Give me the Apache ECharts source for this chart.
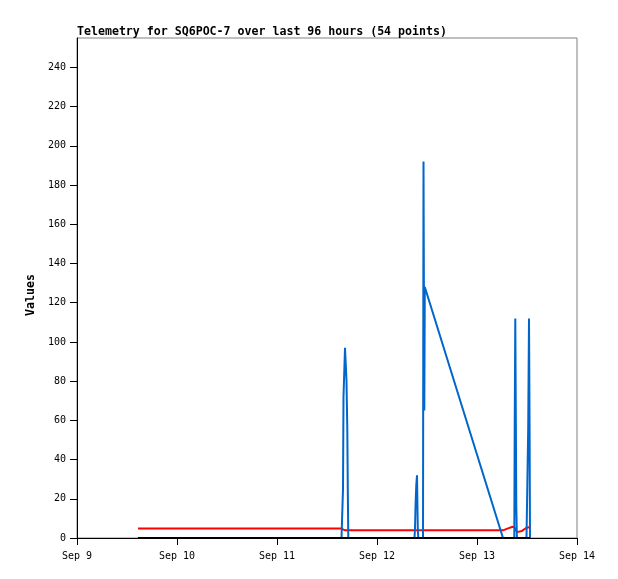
<!DOCTYPE html>
<html>
<head>
<meta charset="utf-8">
<script src="https://cdn.jsdelivr.net/npm/echarts@6/dist/echarts.min.js"></script>
<style>html,body{margin:0;padding:0;background:#fff}#c{width:618px;height:579px}</style>
</head>
<body>
<div id="c"></div>
<script>
// time in hours since Sep 9 00:00
var times = [14.64, 63.48, 63.72, 63.84, 63.96, 64.32, 64.68, 64.87, 64.99, 65.11,
  81.0, 81.12, 81.24, 81.43, 81.6, 81.79, 81.91,
  83.04, 83.16, 83.35, 83.47,
  102.24, 102.72, 103.44, 104.4,
  104.95, 105.05, 105.19, 105.43, 105.58, 105.84, 106.8, 107.88,
  108.19, 108.29, 108.48, 108.62, 108.72];
var blueVals = [0, 0, 0, 25, 72, 97, 80, 56, 25, 0,
  0, 5, 16, 27, 32, 5, 0,
  0, 192, 65, 128,
  0, 0, 0, 0,
  0, 56, 112, 16, 0, 0, 0, 0,
  0, 56, 112, 56, 0];
var redVals = [4.8, 4.8, 3.9, 3.9, 3.9, 3.9, 3.9, 3.9, 3.9, 3.9,
  3.9, 3.9, 3.9, 3.9, 3.9, 3.9, 3.9,
  3.9, 3.9, 3.9, 3.9,
  3.9, 4.3, 4.9, 5.6,
  5.7, 5.2, 4.5, 3.5, 3.0, 2.7, 3.6, 5.2,
  5.4, 5.5, 5.5, 5.5, 5.5];
var blackVals = times.map(function(){ return 0; });
var xTicks = [0, 24, 48, 72, 96, 120];
var xTickLabels = ['Sep 9', 'Sep 10', 'Sep 11', 'Sep 12', 'Sep 13', 'Sep 14'];
var yTicks = [0, 20, 40, 60, 80, 100, 120, 140, 160, 180, 200, 220, 240];

function pairs(vals){ return times.map(function(t, i){ return [t, vals[i]]; }); }

var chart = echarts.init(document.getElementById('c'), null, {renderer: 'canvas'});
var mono = 'DejaVu Sans Mono';
chart.setOption({
  animation: false,
  backgroundColor: '#fff',
  title: {
    text: 'Telemetry for SQ6POC-7 over last 96 hours (54 points)',
    left: 77, top: 26, padding: 0,
    textStyle: {fontFamily: mono, fontSize: 11.6, fontWeight: 'bold', color: '#000'}
  },
  grid: {left: 77, top: 38, width: 500, height: 500, show: true, borderColor: '#808080', borderWidth: 1, backgroundColor: 'transparent'},
  xAxis: {
    type: 'value', min: 0, max: 120, interval: 24,
    axisLine: {lineStyle: {color: '#000', width: 1}},
    axisTick: {show: true, inside: false, length: 7, lineStyle: {color: '#000'}},
    axisLabel: {margin: 13, fontFamily: mono, fontSize: 10, color: '#000',
      formatter: function(v){ var i = xTicks.indexOf(v); return i >= 0 ? xTickLabels[i] : ''; }},
    splitLine: {show: false}
  },
  yAxis: {
    type: 'value', min: 0, max: 255,
    name: 'Values', nameLocation: 'middle', nameGap: 39, nameRotate: 90,
    nameTextStyle: {fontFamily: mono, fontSize: 11.6, fontWeight: 'bold', color: '#000', padding: [0, 14, 0, 0]},
    axisLine: {show: true, lineStyle: {color: '#000', width: 1}},
    axisTick: {show: true, inside: false, length: 7, lineStyle: {color: '#000'}, customValues: yTicks},
    axisLabel: {margin: 11, fontFamily: mono, fontSize: 10, color: '#000', customValues: yTicks},
    splitLine: {show: false}
  },
  series: [
    {type: 'line', data: pairs(redVals), showSymbol: false, symbol: 'none', lineStyle: {color: '#ff0000', width: 2}, z: 2},
    {type: 'line', data: pairs(blueVals), showSymbol: false, symbol: 'none', lineStyle: {color: '#0066cc', width: 2}, z: 3},
    {type: 'line', data: pairs(blackVals), showSymbol: false, symbol: 'none', lineStyle: {color: '#000', width: 2}, z: 4}
  ]
});
</script>
</body>
</html>
